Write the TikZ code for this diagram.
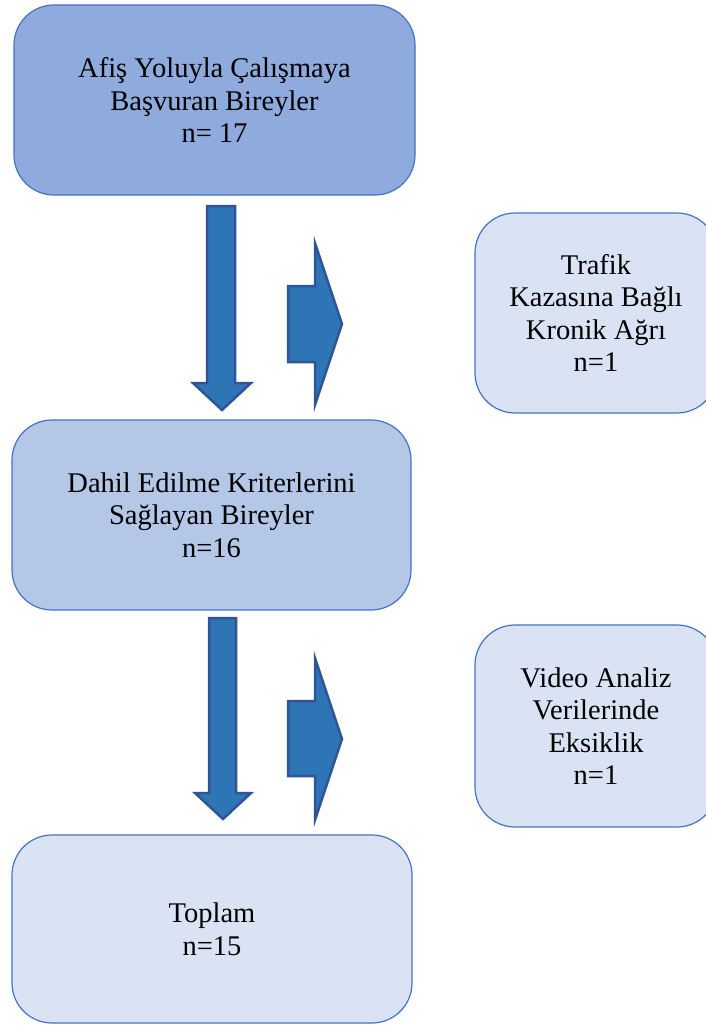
\documentclass[tikz,border=0pt]{standalone}
\usepackage{fontspec}
\setmainfont{Liberation Serif}
\newfontfamily\boxfont{Liberation Serif}
\definecolor{boxdark}{HTML}{8FAADC}
\definecolor{boxmid}{HTML}{B4C7E7}
\definecolor{boxlight}{HTML}{DAE3F3}
\definecolor{boxline}{HTML}{4472C4}
\definecolor{arrowfill}{HTML}{2E75B6}
\definecolor{arrowline}{HTML}{2F5597}

\begin{document}
\begin{tikzpicture}[x=1pt, y=-1pt,
  flowbox/.style={draw=boxline, line width=1.2pt, rounded corners=40pt, inner sep=0pt, outer sep=0pt,
    align=center, font=\boxfont\fontsize{28.5}{32.5}\selectfont},
  blockarrow/.style={fill=arrowfill, draw=arrowline, line width=2.5pt, line join=miter}]
  \useasboundingbox (0,0) rectangle (705,1025);

  \node[flowbox, fill=boxdark, minimum width=401pt, minimum height=190pt] (basvuran) at (214.5,100)
    {Afiş Yoluyla Çalışmaya\\Başvuran Bireyler\\n= 17};
  \node[flowbox, fill=boxlight, minimum width=242pt, minimum height=200pt] (trafik) at (596,313)
    {Trafik\\Kazasına Bağlı\\Kronik Ağrı\\n=1};
  \node[flowbox, fill=boxmid, minimum width=399pt, minimum height=190pt] (dahil) at (211.5,515)
    {Dahil Edilme Kriterlerini\\Sağlayan Bireyler\\n=16};
  \node[flowbox, fill=boxlight, minimum width=242pt, minimum height=202pt] (video) at (596,726)
    {Video Analiz\\Verilerinde\\Eksiklik\\n=1};
  \node[flowbox, fill=boxlight, minimum width=400pt, minimum height=188pt] (toplam) at (212,929)
    {Toplam\\n=15};

  \draw[blockarrow] (207,206)--(235,206)--(235,383)--(251,383)--(222,410)--(193,383)--(207,383)--cycle;
  \draw[blockarrow] (288,286)--(315,286)--(315,243)--(342,324)--(315,405)--(315,362)--(288,362)--cycle;

  \draw[blockarrow] (209,618)--(236,618)--(236,793)--(251,793)--(223,819)--(195,793)--(209,793)--cycle;
  \draw[blockarrow] (288,701)--(315,701)--(315,658)--(342,739)--(315,820)--(315,776)--(288,776)--cycle;
\end{tikzpicture}
\end{document}
